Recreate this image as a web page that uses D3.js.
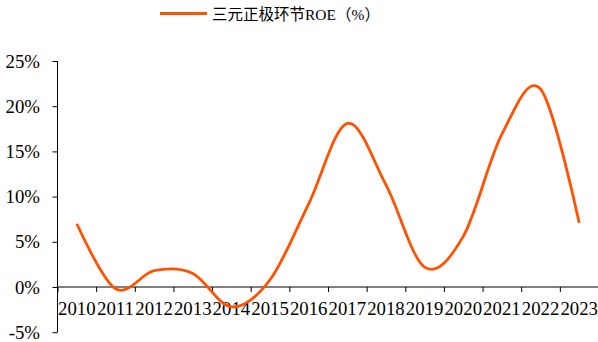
<!DOCTYPE html>
<html>
<head>
<meta charset="utf-8">
<script src="https://cdn.jsdelivr.net/npm/d3@7"></script>
<style>
  html, body { margin: 0; padding: 0; background: #fff; }
  svg { display: block; }
  text { font-family: "Liberation Serif", "Times New Roman", "Noto Sans CJK SC", serif; fill: #000; }
</style>
</head>
<body>
<svg id="chart" width="598" height="342"></svg>
<script>
// Annual ROE of the ternary cathode segment (%)
const years = ["2010","2011","2012","2013","2014","2015","2016","2017","2018","2019","2020","2021","2022","2023"];
const roe = [7.0, -0.2, 1.8, 1.5, -2.2, 0.8, 9.2, 18.1, 11.3, 2.2, 5.6, 16.9, 21.9, 7.1];
const yTicks = [-5, 0, 5, 10, 15, 20, 25];
const seriesName = "三元正极环节ROE（%）";

const svg = d3.select("#chart");
const plotLeft = 57.5, plotRight = 598.5, plotTop = 61, plotBottom = 332.2;
const lineColor = "#FF5200";

const x = d3.scaleBand().domain(years).range([plotLeft, plotRight]).padding(0);
const xEdge = d3.scaleLinear().domain([0, years.length]).range([plotLeft, plotRight]);
const y = d3.scaleLinear().domain([-5, 25]).range([plotBottom, plotTop]);

// Y axis
const yAxis = svg.append("g")
  .attr("transform", `translate(${plotLeft},0)`)
  .call(d3.axisLeft(y).tickValues(yTicks).tickSize(5).tickPadding(12.5)
        .tickFormat(d => d + "%"));
yAxis.select(".domain").attr("d", `M0,${y(25)}V${y(-5)}`).attr("stroke", "#000");
yAxis.selectAll("line").attr("stroke", "#000");
yAxis.selectAll("text").style("font-size", "18.8px");

// X axis along the zero line: boundary ticks + centred year labels
const y0 = y(0);
const xTicks = svg.append("g")
  .attr("transform", `translate(0,${y0})`)
  .call(d3.axisBottom(xEdge).tickValues(d3.range(0, years.length + 1)).tickSize(5).tickFormat(""));
xTicks.select(".domain").attr("d", `M${plotLeft},0H${plotRight}`).attr("stroke", "#000");
xTicks.selectAll("line").attr("stroke", "#000");

const xLabels = svg.append("g")
  .attr("transform", `translate(0,${y0})`)
  .call(d3.axisBottom(x).tickSize(0).tickPadding(14.7));
xLabels.select(".domain").remove();
xLabels.selectAll("text").style("font-size", "18.8px");

// Smoothed series line
const line = d3.line()
  .x((d, i) => x(years[i]) + x.bandwidth() / 2)
  .y(d => y(d))
  .curve(d3.curveCardinal.tension(0));

svg.append("path")
  .datum(roe)
  .attr("d", line)
  .attr("fill", "none")
  .attr("stroke", lineColor)
  .attr("stroke-width", 2.8)
  .attr("stroke-linejoin", "round");

// Legend
const legend = svg.append("g");
legend.append("line")
  .attr("x1", 160).attr("x2", 207).attr("y1", 13.5).attr("y2", 13.5)
  .attr("stroke", lineColor).attr("stroke-width", 2.8);
legend.append("text")
  .attr("x", 212).attr("y", 20)
  .style("font-size", "15.5px")
  .text(seriesName);
</script>
</body>
</html>
